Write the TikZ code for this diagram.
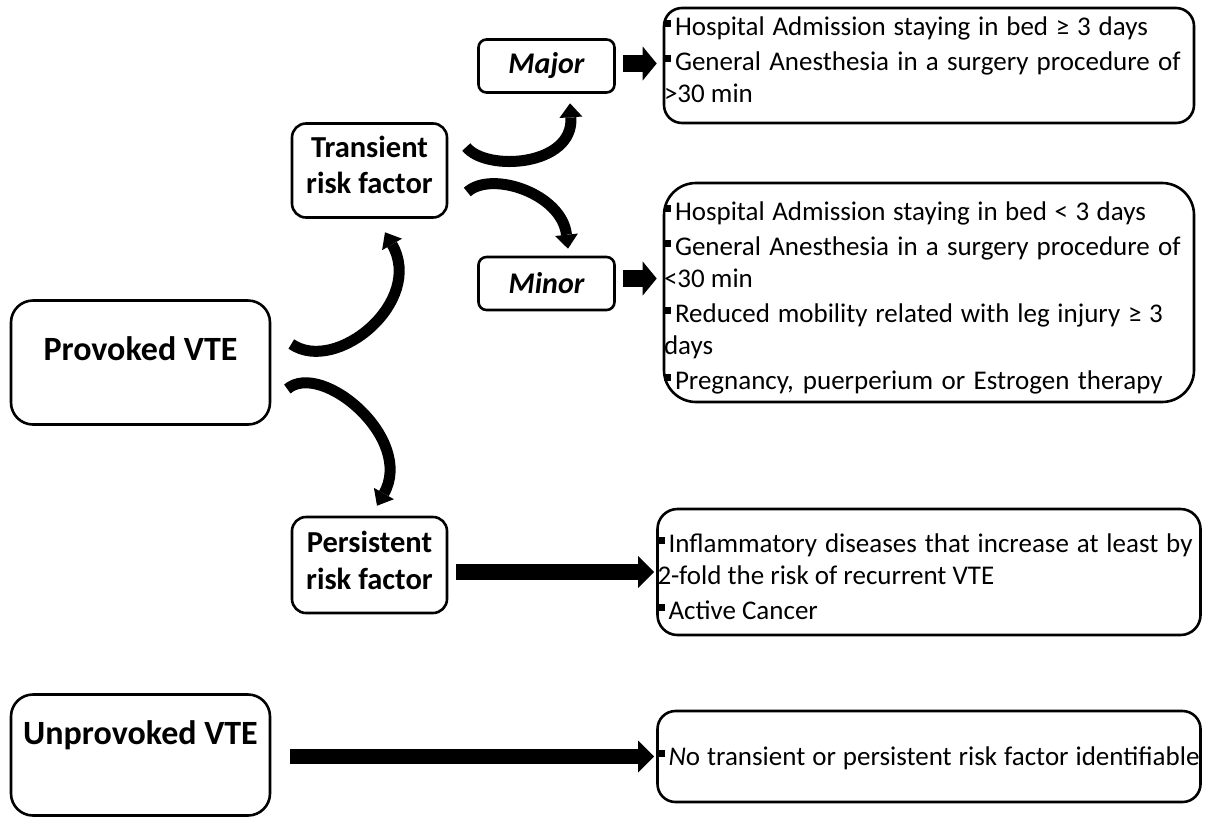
\documentclass[tikz,border=0pt]{standalone}
\usepackage{fontspec}
\setmainfont{Carlito}
\usetikzlibrary{arrows.meta}
\newcommand\bul{\rule[8pt]{7pt}{7pt}\hspace{4pt}}
\begin{document}
\begin{tikzpicture}[x=1pt,y=-1pt,
  box/.style={draw, line width=2.6pt, inner sep=0pt},
  lft/.style={box, rounded corners=22pt, font=\fontsize{34}{40}\selectfont\bfseries},
  rf/.style={box, rounded corners=14pt, font=\fontsize{30.5}{36}\selectfont\bfseries},
  sev/.style={box, rounded corners=8pt, minimum width=136pt, minimum height=53pt, font=\fontsize{30}{36}\selectfont\bfseries\itshape},
  lst/.style={box, font=\fontsize{27}{32}\selectfont},
  curv/.style={line width=11pt, -{Triangle[length=14pt,width=23pt,line width=0pt]}},
  blk/.style={line width=16pt, -{Triangle[length=16pt,width=32pt,line width=0pt]}},
  sblk/.style={line width=17pt, -{Triangle[length=14pt,width=34pt,line width=0pt]}}
]
\fill[white] (0,0) rectangle (1206,817);
\useasboundingbox (0,0) rectangle (1206,817);

% left boxes
\node[lft] (pv) at (140.5,362.5) {\parbox[c][124pt][t]{259pt}{\centering\rule{0pt}{60pt}Provoked VTE}};
\node[lft] (un) at (140.5,755) {\parbox[c][121pt][t]{259pt}{\centering\rule{0pt}{50pt}Unprovoked VTE}};

% risk factor boxes
\node[rf] (tr) at (369.5,170.5) {\parbox[c][94pt][t]{155pt}{\centering\rule{0pt}{34pt}Transient\\risk factor}};
\node[rf] (pe) at (369.5,565) {\parbox[c][96pt][t]{155pt}{\centering\baselineskip=37pt\rule{0pt}{35pt}Persistent\\risk factor}};

% major / minor
\node[sev] (ma) at (546.5,66) {Major\hspace{9pt}};
\node[sev] (mi) at (546.5,283.5) {Minor\hspace{28pt}};

% list boxes
\node[lst, rounded corners=18pt] (mal) at (929,65.5) {\parbox[c][115pt][t]{530pt}{\setlength\parskip{3pt}%
\rule{0pt}{27pt}\makebox[484pt][s]{\bul Hospital Admission staying in bed ≥ 3 days}\par
\makebox[516.5pt][s]{\bul General Anesthesia in a surgery procedure of}\\
>30 min}};

\node[lst, rounded corners=32pt] (mil) at (929,292.5) {\parbox[c][219pt][t]{530pt}{\setlength\parskip{3pt}%
\rule{0pt}{37pt}\makebox[482pt][s]{\bul Hospital Admission staying in bed < 3 days}\par
\makebox[516.5pt][s]{\bul General Anesthesia in a surgery procedure of}\\
<30 min\par
\makebox[499pt][s]{\bul Reduced mobility related with leg injury ≥ 3}\\
days\par
\makebox[498.5pt][s]{\bul Pregnancy, puerperium or Estrogen therapy}}};

\node[lst, rounded corners=20pt] (pl) at (929,572) {\parbox[c][126pt][t]{543pt}{\setlength\parskip{3pt}%
\rule{0pt}{43pt}\makebox[535pt][s]{\bul Inflammatory diseases that increase at least by}\\
2-fold the risk of recurrent VTE\par
\bul Active Cancer}};

\node[lst, rounded corners=18pt] (ul) at (929,756.5) {\parbox[c][91pt][t]{543pt}{%
\rule{0pt}{54pt}\makebox[542pt][s]{\bul\textit{N}o transient or persistent risk factor identifiable}}};

% curved arrows
\draw[curv] ([xshift=18pt,yshift=23.5pt]tr.east) .. controls +(20,25) and +(4,63) .. ([xshift=23.5pt,yshift=-9.5pt]ma.south);
\draw[curv] ([xshift=19pt,yshift=-21.5pt]tr.east) .. controls +(24,-22) and +(-6,-55) .. ([xshift=21.5pt,yshift=7pt]mi.north);
\draw[curv] ([xshift=20pt,yshift=18.5pt]pv.east) .. controls +(45,31) and +(40,69) .. ([xshift=15.5pt,yshift=-13.5pt]tr.south);
\draw[curv] ([xshift=16pt,yshift=-26.5pt]pv.east) .. controls +(34,-29) and +(38,-67) .. ([xshift=7.5pt,yshift=10pt]pe.north);

% straight block arrows
\draw[sblk, transform canvas={yshift=2.5pt}, shorten <=7pt, shorten >=6pt] (ma.east) -- (ma.east -| mal.west);
\draw[sblk, transform canvas={yshift=5pt}, shorten <=7pt, shorten >=6pt] (mi.east) -- (mi.east -| mil.west);
\draw[blk, shorten <=8pt, shorten >=2pt] (pe.east |- pl.west) -- (pl.west);
\draw[blk, line width=15pt, shorten <=19pt, shorten >=2pt] (un.east |- ul.west) -- (ul.west);
\end{tikzpicture}
\end{document}
